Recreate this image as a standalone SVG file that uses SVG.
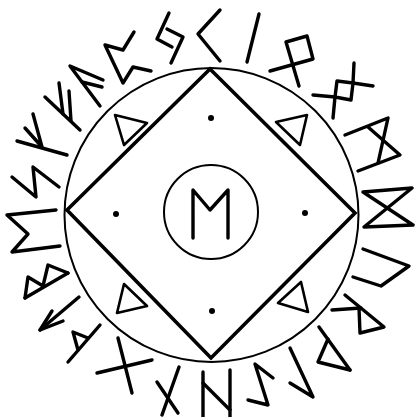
<svg xmlns="http://www.w3.org/2000/svg" width="415" height="417" viewBox="0 0 415 417">
<style>
.r{fill:none;stroke:#000;stroke-width:3.4;stroke-linecap:round;stroke-linejoin:round}
.c{fill:none;stroke:#000;stroke-width:2}
.sq{fill:none;stroke:#000;stroke-width:3.6;stroke-linejoin:miter}
.t{fill:none;stroke:#000;stroke-width:2.6;stroke-linejoin:round}
.d{fill:#000}
</style>
<rect width="415" height="417" fill="#fff"/>
<g id="frame">
<circle class="c" cx="211.5" cy="215" r="147"/>
<polygon class="sq" points="210,69 355,213 211,358 67,210"/>
<circle class="c" cx="211" cy="212" r="47" stroke-width="2.6"/>
</g>
<g id="center-rune">
<polyline class="r" points="193,238 193,190 210,210 228,190 228,238"/>
</g>
<g id="dots">
<circle class="d" cx="211" cy="118" r="3"/>
<circle class="d" cx="116" cy="214" r="3"/>
<circle class="d" cx="305" cy="213" r="3"/>
<circle class="d" cx="212" cy="311" r="3"/>
</g>
<g id="triangles">
<polygon class="t" points="115,115 147,123 124,145"/>
<polygon class="t" points="276,122 307,115 300,145"/>
<polygon class="t" points="124,284 147,306 117,313"/>
<polygon class="t" points="301,282 308,312 278,303"/>
</g>
<g id="runes">
<polyline class="r" points="169,13 157,39 172,47"/>
<polyline class="r" points="167,29 183,37 171,63"/>
<polyline class="r" points="220,10 198,34 220,61"/>
<line class="r" x1="259" y1="14" x2="247" y2="62"/>
<polyline class="r" points="270,71 313,59 307,36 286,42 299,86"/>
<polygon class="r" points="337,81 353,83 351,100 335,97"/>
<line class="r" x1="353" y1="83" x2="354" y2="63"/>
<line class="r" x1="353" y1="83" x2="373" y2="86"/>
<line class="r" x1="335" y1="97" x2="333" y2="118"/>
<line class="r" x1="335" y1="97" x2="313" y2="95"/>
<polyline class="r" points="345,135 388,118 378,163"/>
<polyline class="r" points="368,127 400,155 358,171"/>
<polyline class="r" points="413,225 364,227 412,188 363,192 413,225"/>
<polyline class="r" points="363,249 409,266 381,286 353,277"/>
<polyline class="r" points="345,295 384,327 360,333 359,308"/>
<line class="r" x1="332" y1="310" x2="361" y2="308"/>
<line class="r" x1="319" y1="327" x2="350" y2="370"/>
<polyline class="r" points="328,339 318,362 350,370"/>
<polyline class="r" points="290,348 313,397 290,383"/>
<polyline class="r" points="273,378 255,364 268,405 248,400"/>
<line class="r" x1="203" y1="372" x2="203" y2="417"/>
<line class="r" x1="230" y1="370" x2="230" y2="417"/>
<line class="r" x1="203" y1="383" x2="230" y2="410"/>
<line class="r" x1="157" y1="382" x2="178" y2="413"/>
<line class="r" x1="179" y1="367" x2="162" y2="415"/>
<line class="r" x1="97" y1="373" x2="152" y2="360"/>
<line class="r" x1="118" y1="338" x2="132" y2="393"/>
<line class="r" x1="100" y1="325" x2="68" y2="362"/>
<polyline class="r" points="88,338 73,332 78,350"/>
<line class="r" x1="79" y1="297" x2="40" y2="330"/>
<polyline class="r" points="52,311 40,330 63,321"/>
<line class="r" x1="68" y1="273" x2="25" y2="298"/>
<polyline class="r" points="68,273 48,265 43,286 28,277 25,298"/>
<polyline class="r" points="56,210 7,215 28,234 12,252 60,246"/>
<polyline class="r" points="12,177 36,197 33,167 59,187"/>
<line class="r" x1="17" y1="141" x2="67" y2="155"/>
<polyline class="r" points="33,114 42,147 25,128"/>
<line class="r" x1="45" y1="97" x2="80" y2="130"/>
<line class="r" x1="59" y1="83" x2="63" y2="114"/>
<line class="r" x1="69" y1="91" x2="71" y2="121"/>
<polyline class="r" points="103,80 70,66 100,106"/>
<line class="r" x1="82" y1="82" x2="102" y2="87"/>
<polyline class="r" points="134,32 123,50 105,45 123,83 133,67 151,71"/>
</g>
</svg>
